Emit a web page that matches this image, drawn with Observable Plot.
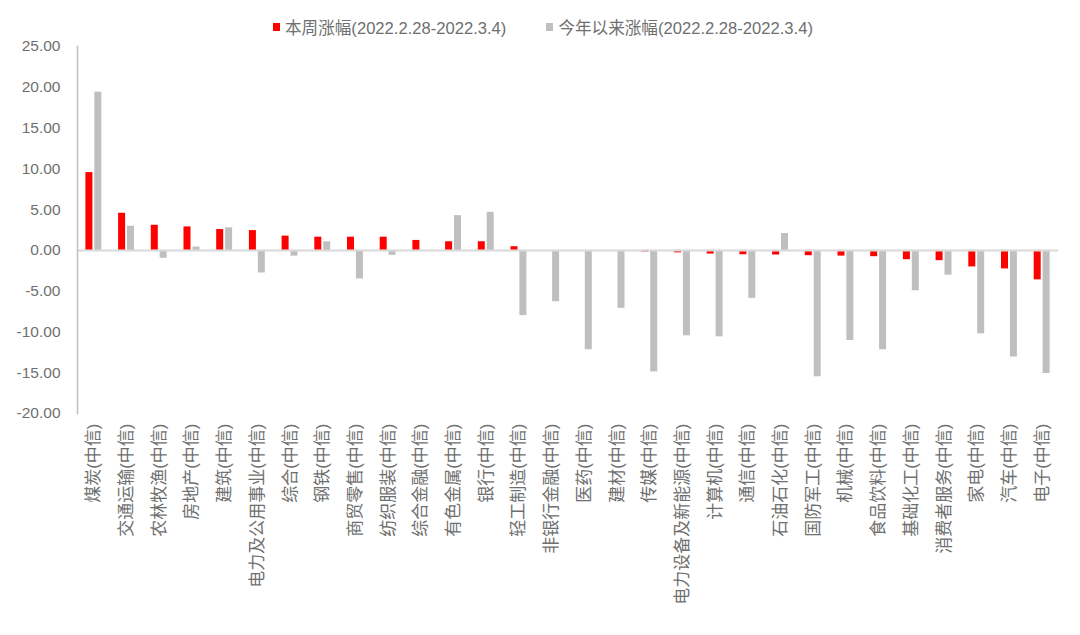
<!DOCTYPE html>
<html>
<head>
<meta charset="utf-8">
<script src="https://cdn.jsdelivr.net/npm/d3@7"></script>
<script src="https://cdn.jsdelivr.net/npm/@observablehq/plot@0.6"></script>
<style>
  html, body { margin: 0; padding: 0; background: #fff; }
  body { width: 1080px; height: 635px; overflow: hidden; position: relative; font-family: "Liberation Sans", "Noto Sans CJK SC", sans-serif; }
  #legend { position: absolute; left: 273px; top: 15px; height: 24px; display: flex; align-items: center; gap: 40px; font-size: 16.6px; color: #6f6f6f; white-space: nowrap; }
  .item { display: flex; align-items: center; }
  .sw { width: 7px; height: 8px; display: inline-block; margin-right: 5px; }
  #chart { position: absolute; left: 0; top: 0; }
</style>
</head>
<body>
<div id="chart"></div>
<div id="legend"></div>
<script>
const categories = ["煤炭(中信)","交通运输(中信)","农林牧渔(中信)","房地产(中信)","建筑(中信)","电力及公用事业(中信)","综合(中信)","钢铁(中信)","商贸零售(中信)","纺织服装(中信)","综合金融(中信)","有色金属(中信)","银行(中信)","轻工制造(中信)","非银行金融(中信)","医药(中信)","建材(中信)","传媒(中信)","电力设备及新能源(中信)","计算机(中信)","通信(中信)","石油石化(中信)","国防军工(中信)","机械(中信)","食品饮料(中信)","基础化工(中信)","消费者服务(中信)","家电(中信)","汽车(中信)","电子(中信)"];
const weekly = [9.54,4.55,3.08,2.88,2.56,2.43,1.75,1.62,1.62,1.62,1.22,1.06,1.06,0.45,0.0,0.0,0.0,-0.2,-0.3,-0.45,-0.53,-0.57,-0.65,-0.7,-0.77,-1.14,-1.26,-2.03,-2.27,-3.61];
const ytd = [19.4,2.96,-0.97,0.41,2.76,-2.77,-0.7,1.06,-3.5,-0.6,0.0,4.26,4.67,-8.0,-6.29,-12.18,-7.1,-14.9,-10.47,-10.6,-5.88,2.07,-15.5,-11.04,-12.18,-4.95,-3.04,-10.23,-13.07,-15.1];
const seriesNames = ["本周涨幅(2022.2.28-2022.3.4)","今年以来涨幅(2022.2.28-2022.3.4)"];
const seriesColors = ["#ff0000","#bfbfbf"];
const yTicks = [-20,-15,-10,-5,0,5,10,15,20,25];

const legend = document.getElementById("legend");
seriesNames.forEach((n,i)=>{
  const it = document.createElement("span"); it.className = "item";
  const sw = document.createElement("span"); sw.className = "sw"; sw.style.background = seriesColors[i];
  it.appendChild(sw); it.appendChild(document.createTextNode(n));
  legend.appendChild(it);
});

const data = categories.map((c,i)=>({c, w: weekly[i], y: ytd[i]}));

const chart = Plot.plot({
  width: 1080, height: 635,
  marginLeft: 77, marginRight: 22, marginTop: 46, marginBottom: 222,
  style: {fontSize: "15px", fontFamily: "'Liberation Sans','Noto Sans CJK SC',sans-serif", color: "#6f6f6f", background: "#fff"},
  x: {domain: categories, padding: 0, round: false},
  y: {domain: [-20, 25]},
  marks: [
    Plot.barY(data, {x: "c", y: "w", fill: seriesColors[0], insetLeft: 8.4, insetRight: 17.3}),
    Plot.barY(data, {x: "c", y: "y", fill: seriesColors[1], insetLeft: 17.3, insetRight: 8.4}),
    Plot.ruleY([0], {stroke: "#d9d9d9", strokeWidth: 2}),
    Plot.frame({anchor: "left", stroke: "#bfbfbf", strokeWidth: 1.5}),
    Plot.axisY({ticks: yTicks, tickFormat: d => d.toFixed(2), tickSize: 0, tickPadding: 17, label: null, fontSize: 15.5}),
    Plot.axisX({tickRotate: -90, tickSize: 0, tickPadding: 10, label: null, fontSize: 17})
  ]
});
document.getElementById("chart").appendChild(chart);
</script>
</body>
</html>
